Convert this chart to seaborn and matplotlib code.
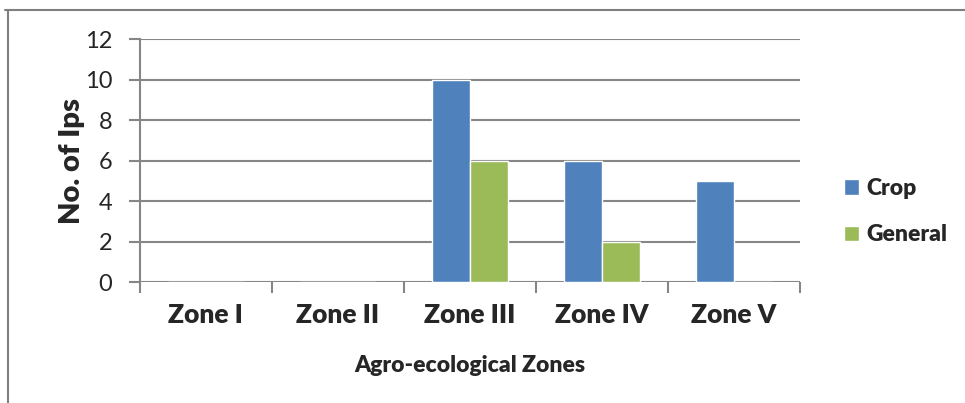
import pandas as pd
import matplotlib
matplotlib.use("Agg")
import matplotlib.pyplot as plt
import seaborn as sns
from matplotlib.lines import Line2D

zones = ["Zone I", "Zone II", "Zone III", "Zone IV", "Zone V"]
crop = [0, 0, 10, 6, 5]
general = [0, 0, 6, 2, 0]
y_ticks = [0, 2, 4, 6, 8, 10, 12]

df = pd.DataFrame({
    "zone": zones * 2,
    "count": crop + general,
    "type": ["Crop"] * len(zones) + ["General"] * len(zones),
})

sns.set_style("white")
plt.rcParams["font.family"] = ["Lato", "DejaVu Sans"]

fig = plt.figure(figsize=(9.65, 4.03), dpi=100)
ax = fig.add_axes([0.145, 0.300, 0.684, 0.603])

grid_col = "#868686"
for v in y_ticks:
    ax.axhline(v, color=grid_col, lw=1.5, zorder=0)

sns.barplot(data=df, x="zone", y="count", hue="type", order=zones,
            palette={"Crop": "#4F81BD", "General": "#9BBB59"},
            width=0.57, gap=0, saturation=1, ax=ax, zorder=2, legend=True)

ax.set_xlim(-0.5, len(zones) - 0.5)
ax.set_ylim(0, 12)
ax.set_yticks(y_ticks)
ax.tick_params(axis="y", labelsize=17, length=8, width=1.5, color=grid_col,
               pad=12, direction="out", left=True)
ax.set_xticks(range(len(zones)))
ax.set_xticklabels(zones, fontsize=19, fontweight="heavy")
ax.tick_params(axis="x", length=0, pad=15)
ax.set_xticks([i - 0.5 for i in range(len(zones) + 1)], minor=True)
ax.tick_params(axis="x", which="minor", length=8, width=1.5, color=grid_col,
               direction="out", bottom=True)

for s in ["top", "right", "bottom"]:
    ax.spines[s].set_visible(False)
ax.spines["left"].set_color(grid_col)
ax.spines["left"].set_linewidth(1.5)

ax.set_xlabel("Agro-ecological Zones", fontsize=16.5, fontweight="heavy", labelpad=20)
ax.set_ylabel("No. of Ips", fontsize=21, fontweight="heavy", labelpad=0)

leg = ax.legend(loc="center left", bbox_to_anchor=(1.035, 0.29), frameon=False,
                fontsize=16.5, handlelength=0.65, handleheight=0.65,
                handletextpad=0.35, labelspacing=1.1)
for t in leg.get_texts():
    t.set_fontweight("heavy")

# outer frame of the figure (top and left edges)
fig.add_artist(Line2D([0.005, 1.0], [1 - 10 / 403, 1 - 10 / 403],
                      transform=fig.transFigure, color="#7f7f7f", lw=1.5))
fig.add_artist(Line2D([8 / 965, 8 / 965], [0, 1 - 10 / 403],
                      transform=fig.transFigure, color="#7f7f7f", lw=1.5))

fig.savefig("out.png", dpi=100)
